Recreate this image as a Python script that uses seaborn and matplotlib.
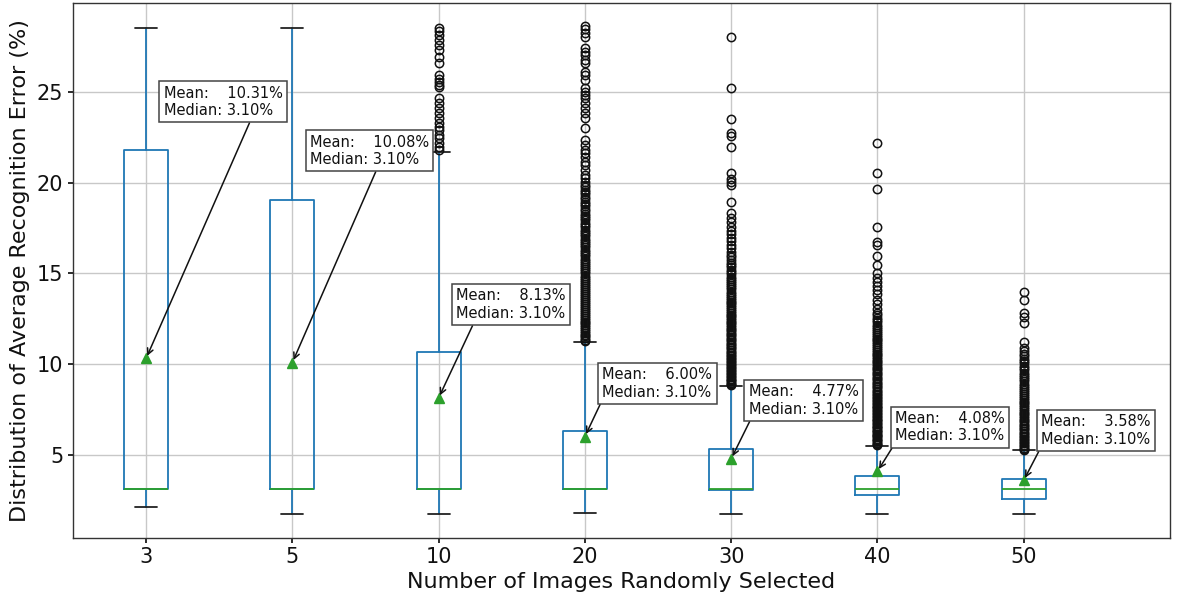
import numpy as np
import matplotlib
matplotlib.use("Agg")
import matplotlib.pyplot as plt
import seaborn as sns

# ---------------- data ----------------
categories = ["3", "5", "10", "20", "30", "40", "50"]
q1_vals = [3.10, 3.10, 3.10, 3.10, 3.05, 2.76, 2.56]
median_vals = [3.10, 3.10, 3.10, 3.10, 3.10, 3.10, 3.10]
q3_vals = [21.79, 19.05, 10.65, 6.30, 5.33, 3.84, 3.66]
whisker_low = [2.12, 1.73, 1.73, 1.78, 1.75, 1.71, 1.71]
whisker_high = [28.55, 28.55, 21.71, 11.22, 8.79, 5.50, 5.24]
mean_vals = [10.31, 10.08, 8.13, 6.00, 4.77, 4.08, 3.58]

fliers_3 = []
fliers_5 = []
fliers_10 = [28.56, 28.38, 28.14, 27.87, 27.60, 27.30, 26.95, 26.58, 25.94, 25.75,
             25.57, 25.39, 25.26, 24.65, 24.38, 24.10, 23.83, 23.55, 23.27, 23.09,
             22.90, 22.63, 22.45, 22.17, 21.98, 21.78]
fliers_20 = [28.64, 28.46, 28.27, 28.05, 27.41, 27.22, 27.04, 26.76, 26.58, 26.12,
             25.94, 25.66, 25.20, 25.02, 24.83, 24.65, 24.38, 24.10, 23.83, 23.55,
             23.00, 22.35, 22.08, 21.80, 21.62, 21.43, 21.16, 20.98, 20.70, 20.42,
             20.24, 20.05, 19.90, 19.78, 19.62, 19.50, 19.36, 19.22, 19.10, 18.95,
             18.83, 18.70, 18.55, 18.42, 18.30, 18.18, 18.05, 17.92, 17.80, 17.66,
             17.55, 17.42, 17.30, 17.18, 17.05, 16.92, 16.80, 16.68, 16.55, 16.43,
             16.30, 16.18, 16.06, 15.94, 15.82, 15.70, 15.58, 15.46, 15.35, 15.23,
             15.11, 15.00, 14.88, 14.77, 14.65, 14.54, 14.42, 14.31, 14.20, 14.09,
             13.97, 13.86, 13.75, 13.64, 13.53, 13.42, 13.31, 13.20, 13.09, 12.98,
             12.88, 12.77, 12.66, 12.55, 12.45, 12.34, 12.24, 12.13, 12.03, 11.92,
             11.82, 11.72, 11.62, 11.52, 11.42, 11.32, 11.25]
fliers_30 = [28.05, 25.20, 23.50, 22.72, 22.58, 22.00, 20.52, 20.22, 20.02, 19.88,
             18.95, 18.31, 18.05, 17.82, 17.58, 17.36, 17.15, 16.95, 16.76, 16.57,
             16.38, 16.20, 16.03, 15.88, 15.74, 15.60, 15.46, 15.33, 15.20, 15.07,
             14.94, 14.82, 14.70, 14.58, 14.46, 14.34, 14.23, 14.12, 14.00, 13.89,
             13.78, 13.67, 13.56, 13.45, 13.35, 13.24, 13.14, 13.03, 12.93, 12.83,
             12.73, 12.63, 12.53, 12.43, 12.33, 12.24, 12.14, 12.05, 11.95, 11.86,
             11.77, 11.67, 11.58, 11.49, 11.40, 11.31, 11.22, 11.13, 11.04, 10.95,
             10.86, 10.78, 10.69, 10.60, 10.52, 10.43, 10.35, 10.26, 10.18, 10.10,
             10.01, 9.93, 9.85, 9.77, 9.68, 9.60, 9.52, 9.44, 9.36, 9.28,
             9.20, 9.12, 9.04, 8.96, 8.88, 8.82]
fliers_40 = [22.19, 20.52, 19.64, 17.57, 16.75, 16.57, 15.96, 15.46, 15.00, 14.75,
             14.52, 14.32, 14.10, 13.86, 13.53, 13.30, 13.05, 12.82, 12.68, 12.55,
             12.42, 12.30, 12.18, 12.06, 11.95, 11.84, 11.73, 11.62, 11.51, 11.40,
             11.30, 11.19, 11.09, 10.98, 10.88, 10.78, 10.68, 10.58, 10.48, 10.38,
             10.28, 10.18, 10.09, 9.99, 9.90, 9.80, 9.71, 9.62, 9.52, 9.43,
             9.34, 9.25, 9.16, 9.07, 8.98, 8.89, 8.80, 8.72, 8.63, 8.54,
             8.46, 8.37, 8.29, 8.20, 8.12, 8.04, 7.95, 7.87, 7.79, 7.71,
             7.63, 7.55, 7.47, 7.39, 7.31, 7.23, 7.15, 7.07, 6.99, 6.92,
             6.84, 6.76, 6.69, 6.61, 6.53, 6.46, 6.38, 6.31, 6.24, 6.16,
             6.09, 6.02, 5.95, 5.87, 5.80, 5.73, 5.66, 5.59, 5.53]
fliers_50 = [13.99, 13.53, 12.80, 12.61, 12.25, 11.24, 10.87, 10.72, 10.58, 10.45,
             10.30, 10.18, 10.05, 9.90, 9.78, 9.65, 9.52, 9.40, 9.28, 9.16,
             9.04, 8.92, 8.80, 8.69, 8.58, 8.47, 8.36, 8.25, 8.14, 8.03,
             7.93, 7.83, 7.72, 7.62, 7.52, 7.42, 7.32, 7.22, 7.13, 7.03,
             6.94, 6.84, 6.75, 6.66, 6.57, 6.48, 6.39, 6.30, 6.21, 6.13,
             6.04, 5.96, 5.87, 5.79, 5.71, 5.63, 5.55, 5.47, 5.39, 5.32, 5.26]
fliers_all = [fliers_3, fliers_5, fliers_10, fliers_20, fliers_30, fliers_40, fliers_50]

x_label = "Number of Images Randomly Selected"
y_label = "Distribution of Average Recognition Error (%)"

# ---------------- layout (annotation placement) ----------------
label_dx = 0.12
label_y = [25.36, 22.66, 14.17, 9.83, 8.88, 7.41, 7.23]
arrow_relx = [0.74, 0.57, 0.17, 0.0, 0.03, 0.0, 0.0]

# ---------------- style ----------------
sns.set_theme(style="whitegrid", rc={
    "axes.edgecolor": "#333333",
    "axes.linewidth": 1.0,
    "grid.color": "#c8c8c8",
    "grid.linewidth": 1.0,
    "xtick.bottom": True,
    "ytick.left": True,
    "xtick.major.size": 3.5,
    "ytick.major.size": 3.5,
    "xtick.color": "#111111",
    "ytick.color": "#111111",
    "axes.labelcolor": "#111111",
    "text.color": "#111111",
})
plt.rcParams["font.family"] = ["DejaVu Sans"]

fig, ax = plt.subplots(figsize=(11.77, 5.97), dpi=100)
fig.subplots_adjust(left=0.062, right=0.994, bottom=0.0993, top=0.9945)

positions = np.arange(1, len(categories) + 1)
stats = []
for i, cat in enumerate(categories):
    stats.append(dict(
        label=cat, q1=q1_vals[i], med=median_vals[i], q3=q3_vals[i],
        whislo=whisker_low[i], whishi=whisker_high[i], mean=mean_vals[i],
        fliers=np.array(fliers_all[i]),
    ))

blue = "#1f77b4"
green = "#2ca02c"
ax.bxp(stats, positions=positions, widths=0.3, showmeans=True,
       boxprops=dict(color=blue, linewidth=1.3),
       whiskerprops=dict(color=blue, linewidth=1.3),
       capprops=dict(color="#222222", linewidth=1.3),
       medianprops=dict(color=green, linewidth=1.3),
       meanprops=dict(marker="^", markerfacecolor=green, markeredgecolor=green,
                      markersize=7.5),
       flierprops=dict(marker="o", markerfacecolor="none", markeredgecolor="#111111",
                       markersize=6, markeredgewidth=1.1))

for i, pos in enumerate(positions):
    txt = f"Mean:    {mean_vals[i]:.2f}%\nMedian: {median_vals[i]:.2f}%"
    ax.annotate(txt, xy=(pos, mean_vals[i]), xytext=(pos + label_dx, label_y[i]),
                ha="left", va="top", fontsize=10.5, color="#111111",
                bbox=dict(boxstyle="square,pad=0.3", facecolor="white",
                          edgecolor="#444444", linewidth=1.1),
                arrowprops=dict(arrowstyle="->", color="#111111", linewidth=1.1,
                                relpos=(arrow_relx[i], 0.0), shrinkA=0, shrinkB=2),
                zorder=5)

ax.set_xlim(0.5, 8.0)
ax.set_ylim(0.42, 29.9)
ax.set_xticks(positions)
ax.set_xticklabels(categories)
ax.set_yticks([5, 10, 15, 20, 25])
ax.tick_params(labelsize=15)
ax.set_xlabel(x_label, fontsize=16, labelpad=3)
ax.set_ylabel(y_label, fontsize=16, labelpad=5)
ax.grid(True, axis="both")

fig.savefig("out.png", dpi=100)
